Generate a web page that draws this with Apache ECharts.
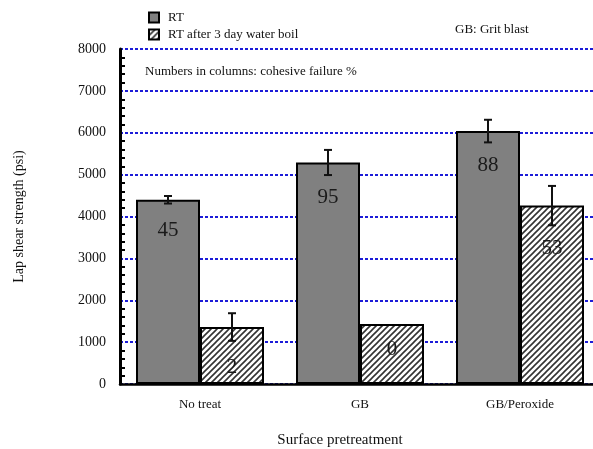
<!DOCTYPE html>
<html>
<head>
<meta charset="utf-8">
<script src="https://cdn.jsdelivr.net/npm/echarts@6/dist/echarts.min.js"></script>
<style>
  html, body { margin: 0; padding: 0; background: #fff; overflow: hidden; }
  /* the plot runs past the right edge of the window, as in the figure */
  #chart { width: 600px; height: 449px; }
</style>
</head>
<body>
<div id="chart"></div>
<script>
// categories and values
const categories = ['No treat', 'GB', 'GB/Peroxide'];
const rtValues = [4400, 5290, 6040];
const rtErrors = [90, 300, 270];
const boilValues = [1360, 1430, 4260];
const boilErrors = [330, null, 470];
const rtFailure = ['45', '95', '88'];
const boilFailure = ['2', '0', '53'];

// how far each number sits below its bar top (style only)
const rtLabelGap = [20, 25, 24];
const boilLabelGap = [30, 15, 32];

const FONT = '"Liberation Serif", "Times New Roman", serif';

// hatch pattern for the water boil bars
function hatch() {
  const c = document.createElement('canvas');
  c.width = 6;
  c.height = 6;
  const ctx = c.getContext('2d');
  ctx.fillStyle = '#fff';
  ctx.fillRect(0, 0, 6, 6);
  ctx.strokeStyle = '#333';
  ctx.lineWidth = 1.6;
  ctx.beginPath();
  ctx.moveTo(-1, 7); ctx.lineTo(7, -1);
  ctx.moveTo(-4, 4); ctx.lineTo(4, -4);
  ctx.moveTo(2, 10); ctx.lineTo(10, 2);
  ctx.stroke();
  return c;
}
const hatchFill = { image: hatch(), repeat: 'repeat' };

// error bar whiskers, shifted to the centre of each bar
function errorItem(offset) {
  return function (params, api) {
    const lo = api.coord([api.value(0), api.value(1)]);
    const hi = api.coord([api.value(0), api.value(2)]);
    const x = lo[0] + offset;
    const style = { stroke: '#111', lineWidth: 2 };
    return {
      type: 'group',
      children: [
        { type: 'line', shape: { x1: x, y1: lo[1], x2: x, y2: hi[1] }, style: style },
        { type: 'line', shape: { x1: x - 4, y1: lo[1], x2: x + 4, y2: lo[1] }, style: style },
        { type: 'line', shape: { x1: x - 4, y1: hi[1], x2: x + 4, y2: hi[1] }, style: style }
      ]
    };
  };
}
function errorData(values, errors) {
  const out = [];
  values.forEach((v, i) => {
    if (errors[i] != null) out.push([i, v - errors[i], v + errors[i]]);
  });
  return out;
}
function barData(values, texts, gaps) {
  return values.map((v, i) => ({
    value: v,
    label: { formatter: texts[i], distance: gaps[i] }
  }));
}

const barLabel = {
  show: true,
  position: 'insideTop',
  fontSize: 21,
  fontFamily: FONT,
  color: '#1a1a1a'
};

const myChart = echarts.init(document.getElementById('chart'));

myChart.setOption({
  animation: false,
  textStyle: { fontFamily: FONT },
  grid: { left: 120, top: 49, right: 0, height: 335 },
  legend: {
    orient: 'vertical',
    left: 143,
    top: 6,
    itemWidth: 10,
    itemHeight: 10,
    itemGap: 4,
    icon: 'rect',
    data: ['RT', 'RT after 3 day water boil'],
    textStyle: { fontFamily: FONT, fontSize: 13, color: '#111', padding: [0, 0, 0, 4] }
  },
  graphic: [
    {
      type: 'text', left: 455, top: 23,
      style: { text: 'GB: Grit blast', font: '13px ' + FONT, fill: '#111' }
    },
    {
      type: 'text', left: 145, top: 65,
      style: { text: 'Numbers in columns: cohesive failure %', font: '13px ' + FONT, fill: '#111' }
    },
    {
      type: 'text', x: 340, y: 440,
      style: { text: 'Surface pretreatment', font: '15px ' + FONT, fill: '#111', align: 'center', verticalAlign: 'middle' }
    }
  ],
  xAxis: {
    type: 'category',
    data: categories,
    axisLine: { lineStyle: { color: '#000', width: 2.5 } },
    axisTick: { inside: true, length: 8, interval: 0, lineStyle: { color: '#000', width: 2 } },
    axisLabel: { color: '#111', fontSize: 13, fontFamily: FONT, margin: 14 }
  },
  yAxis: {
    type: 'value',
    min: 0,
    max: 8000,
    interval: 1000,
    name: 'Lap shear strength (psi)',
    nameLocation: 'middle',
    nameGap: 94,
    nameTextStyle: { fontSize: 14, fontFamily: FONT, color: '#111' },
    axisLine: { show: true, lineStyle: { color: '#000', width: 3 } },
    axisTick: { inside: true, length: 7, lineStyle: { color: '#000', width: 2 } },
    minorTick: { show: true, splitNumber: 5, length: 5, lineStyle: { color: '#000', width: 2 } },
    axisLabel: {
      color: '#111', fontSize: 14, fontFamily: FONT, margin: 14,
      formatter: v => String(v)
    },
    splitLine: { show: true, lineStyle: { color: '#1c1cd8', width: 2, type: [3, 2] } }
  },
  series: [
    {
      name: 'RT',
      type: 'bar',
      data: barData(rtValues, rtFailure, rtLabelGap),
      barGap: '0%',
      barCategoryGap: '20%',
      itemStyle: { color: '#808080', borderColor: '#000', borderWidth: 2 },
      label: barLabel
    },
    {
      name: 'RT after 3 day water boil',
      type: 'bar',
      data: barData(boilValues, boilFailure, boilLabelGap),
      itemStyle: { color: hatchFill, borderColor: '#000', borderWidth: 2 },
      label: barLabel
    },
    {
      type: 'custom',
      renderItem: errorItem(-32),
      data: errorData(rtValues, rtErrors),
      encode: { x: 0, y: [1, 2] },
      z: 10
    },
    {
      type: 'custom',
      renderItem: errorItem(32),
      data: errorData(boilValues, boilErrors),
      encode: { x: 0, y: [1, 2] },
      z: 10
    }
  ]
});

window.addEventListener('resize', () => {
  myChart.resize();
});
</script>
</body>
</html>
